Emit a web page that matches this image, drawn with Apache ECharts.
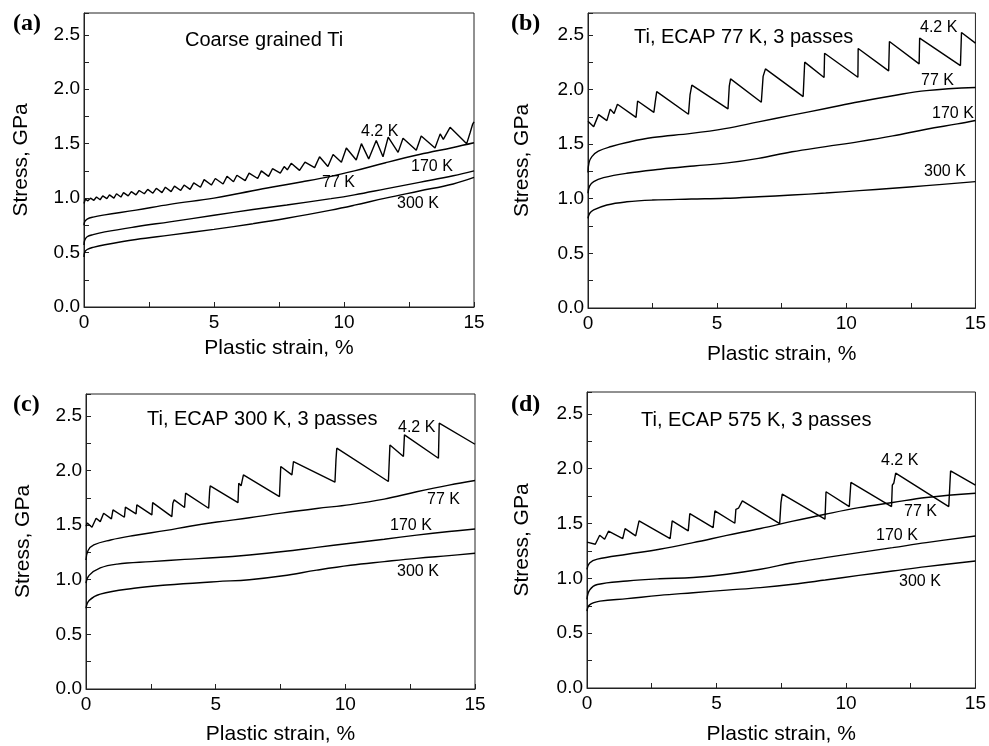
<!DOCTYPE html>
<html>
<head>
<meta charset="utf-8">
<script src="https://cdn.jsdelivr.net/npm/echarts@6/dist/echarts.min.js"></script>
<style>html,body{margin:0;padding:0;background:#fff;}#c{width:989px;height:746px;}</style>
</head>
<body>
<div id="c"></div>
<script>
// ---------- data (plastic strain %, stress GPa) ----------
const xTicks = [0, 5, 10, 15];
const yTicks = [0.0, 0.5, 1.0, 1.5, 2.0, 2.5];
const temps = ['4.2 K', '77 K', '170 K', '300 K'];
const panelTags = ['(a)', '(b)', '(c)', '(d)'];
const panelTitles = ['Coarse grained Ti', 'Ti, ECAP 77 K, 3 passes', 'Ti, ECAP 300 K, 3 passes', 'Ti, ECAP 575 K, 3 passes'];

// (a) coarse grained Ti
const a42 = [[0,0.95],[0.05,0.99],[0.15,0.975],[0.25,1.0],[0.38,0.98],[0.48,1.01],[0.62,0.985],[0.72,1.02],[0.88,0.995],[0.98,1.03],[1.15,1.0],[1.25,1.04],[1.42,1.01],[1.52,1.05],[1.7,1.02],[1.82,1.06],[2.0,1.03],[2.12,1.07],[2.32,1.04],[2.45,1.08],[2.65,1.045],[2.78,1.09],[3.0,1.05],[3.13,1.10],[3.35,1.06],[3.48,1.11],[3.72,1.07],[3.85,1.12],[4.08,1.08],[4.22,1.14],[4.48,1.10],[4.62,1.17],[4.9,1.12],[5.05,1.18],[5.35,1.13],[5.5,1.20],[5.75,1.15],[5.88,1.21],[6.2,1.16],[6.35,1.23],[6.68,1.18],[6.82,1.25],[7.1,1.20],[7.25,1.27],[7.55,1.23],[7.7,1.29],[7.82,1.26],[7.97,1.32],[8.29,1.255],[8.5,1.33],[8.87,1.28],[9.06,1.38],[9.38,1.29],[9.58,1.40],[9.9,1.33],[10.09,1.46],[10.47,1.35],[10.67,1.50],[10.95,1.36],[11.24,1.53],[11.5,1.38],[11.7,1.56],[12.08,1.42],[12.27,1.55],[12.78,1.44],[12.97,1.57],[13.5,1.46],[13.7,1.59],[13.82,1.54],[14.08,1.65],[14.72,1.50],[14.85,1.60],[14.95,1.68],[15,1.70]];
const a77 = [[0,0.75],[0.03,0.785],[0.12,0.808],[0.35,0.826],[0.8,0.846],[2.0,0.89],[3.3,0.943],[5.0,1.0],[6.0,1.045],[7.2,1.10],[8.4,1.15],[9.5,1.20],[10.4,1.25],[11.6,1.325],[12.9,1.40],[14.2,1.465],[15,1.508]];
const a170 = [[0,0.57],[0.03,0.615],[0.12,0.645],[0.35,0.665],[0.8,0.69],[2.0,0.737],[3.3,0.782],[5.0,0.842],[6.5,0.895],[7.8,0.937],[9.5,0.995],[10.4,1.03],[11.6,1.085],[12.9,1.145],[14.2,1.205],[15,1.25]];
const a300 = [[0,0.46],[0.03,0.505],[0.12,0.528],[0.35,0.548],[0.8,0.572],[2.0,0.62],[3.3,0.66],[5.0,0.713],[6.5,0.765],[7.8,0.815],[9.5,0.89],[10.4,0.935],[11.6,1.0],[12.9,1.065],[14.2,1.13],[15,1.19]];

// (b) ECAP 77 K
const b42 = [[0,1.71],[0.22,1.66],[0.41,1.77],[0.73,1.715],[0.86,1.82],[1.01,1.78],[1.14,1.865],[1.86,1.745],[1.92,1.895],[2.55,1.79],[2.6,1.88],[2.66,1.98],[3.89,1.773],[3.95,1.95],[4.02,2.04],[5.42,1.822],[5.47,2.03],[5.52,2.097],[6.71,1.883],[6.78,2.12],[6.87,2.189],[8.33,1.935],[8.39,2.25],[9.14,2.109],[9.16,2.332],[10.45,2.112],[10.46,2.375],[11.64,2.17],[11.67,2.439],[12.82,2.234],[12.84,2.47],[14.42,2.219],[14.46,2.521],[15,2.424]];
const b77 = [[0,1.24],[0.04,1.33],[0.15,1.386],[0.4,1.435],[0.9,1.478],[1.5,1.515],[2.5,1.56],[4.0,1.598],[5.3,1.642],[6.6,1.703],[7.9,1.765],[9.2,1.826],[10.5,1.888],[11.8,1.943],[13.1,1.99],[15,2.018]];
const b170 = [[0,1.05],[0.06,1.115],[0.22,1.157],[0.6,1.193],[1.5,1.233],[2.8,1.27],[4.1,1.30],[5.4,1.328],[6.6,1.37],[7.9,1.43],[9.2,1.477],[10.5,1.523],[11.8,1.575],[13.1,1.636],[14.3,1.685],[15,1.716]];
const b300 = [[0,0.82],[0.06,0.865],[0.22,0.897],[0.73,0.943],[1.5,0.972],[2.5,0.988],[4.0,0.997],[5.3,1.004],[6.6,1.018],[7.9,1.034],[9.2,1.052],[10.5,1.074],[11.8,1.096],[13.1,1.12],[15,1.157]];

// (c) ECAP 300 K
const c42 = [[0,1.49],[0.05,1.52],[0.23,1.48],[0.39,1.563],[0.55,1.532],[0.68,1.609],[0.98,1.557],[1.04,1.639],[1.48,1.572],[1.52,1.664],[1.93,1.603],[1.96,1.685],[2.54,1.593],[2.57,1.706],[3.31,1.578],[3.35,1.70],[3.4,1.731],[3.8,1.661],[3.84,1.792],[4.73,1.654],[4.77,1.82],[4.79,1.859],[5.86,1.706],[5.89,1.883],[5.98,1.86],[6.07,1.96],[7.46,1.761],[7.51,2.036],[7.94,1.96],[8.0,2.082],[9.6,1.893],[9.64,2.1],[9.67,2.204],[11.66,1.899],[11.72,2.234],[12.24,2.128],[12.28,2.326],[13.59,2.112],[13.62,2.433],[15,2.24]];
const c77 = [[0,1.18],[0.08,1.268],[0.3,1.319],[0.95,1.364],[1.85,1.405],[3.1,1.452],[4.0,1.49],[5.05,1.528],[6.3,1.567],[7.6,1.612],[8.9,1.652],[10.2,1.688],[11.5,1.738],[12.75,1.805],[14.0,1.866],[15,1.908]];
const c170 = [[0,0.968],[0.12,1.04],[0.55,1.108],[1.2,1.143],[2.5,1.166],[3.8,1.186],[5.05,1.203],[6.3,1.227],[7.6,1.258],[8.9,1.296],[10.2,1.334],[11.5,1.371],[12.75,1.408],[14.0,1.441],[15,1.465]];
const c300 = [[0,0.739],[0.12,0.81],[0.55,0.868],[1.85,0.922],[3.1,0.952],[5.05,0.983],[6.3,1.0],[7.6,1.036],[8.9,1.088],[10.2,1.133],[11.5,1.166],[12.75,1.196],[14.0,1.221],[15,1.242]];

// (d) ECAP 575 K
const d42 = [[0,1.33],[0.07,1.34],[0.32,1.311],[0.49,1.393],[0.68,1.357],[0.83,1.43],[1.38,1.363],[1.47,1.454],[1.88,1.387],[2.01,1.524],[3.21,1.363],[3.29,1.524],[3.91,1.433],[3.97,1.591],[4.87,1.463],[4.94,1.616],[5.71,1.503],[5.75,1.63],[5.85,1.64],[6.0,1.707],[7.44,1.50],[7.49,1.69],[7.54,1.768],[9.19,1.54],[9.23,1.79],[10.13,1.655],[10.19,1.875],[11.76,1.655],[11.79,1.85],[11.85,1.87],[11.92,1.96],[13.97,1.655],[14.04,1.98],[15,1.85]];
const d77 = [[0,1.082],[0.1,1.14],[0.4,1.175],[1.55,1.22],[2.8,1.266],[4.1,1.326],[5.4,1.392],[6.7,1.455],[7.95,1.522],[9.2,1.585],[10.5,1.645],[11.8,1.692],[13.1,1.738],[15,1.777]];
const d170 = [[0,0.808],[0.1,0.893],[0.4,0.944],[1.55,0.976],[2.8,0.996],[4.1,1.008],[5.4,1.038],[6.7,1.083],[7.95,1.142],[9.2,1.189],[10.5,1.235],[11.8,1.28],[13.1,1.326],[15,1.387]];
const d300 = [[0,0.701],[0.1,0.758],[0.5,0.792],[1.55,0.815],[2.8,0.845],[4.1,0.869],[5.4,0.893],[6.7,0.916],[7.95,0.946],[9.2,0.985],[10.5,1.027],[11.8,1.067],[13.1,1.107],[15,1.159]];

const panelSeries = [[a42,a77,a170,a300],[b42,b77,b170,b300],[c42,c77,c170,c300],[d42,d77,d170,d300]];

// ---------- layout ----------
const SANS = '"Liberation Sans", Arial, sans-serif';
const grids = [
  {left:84, top:13, width:390, height:294},
  {left:588, top:13, width:390, height:295},
  {left:86, top:394, width:389, height:295},
  {left:587, top:392, width:390, height:296}
];
const xNameGap = [31, 36, 35, 36];
const yNameGap = [52, 55, 52, 54];
const tagPos = [[13,25],[511,25],[13,406],[511,406]];
const titlePos = [[185,42],[634,39],[147,421],[641,422]];
const labelPos = [
  [[361,133],[322,184],[411,168],[397,205]],
  [[920,29],[921,82],[932,115],[924,173]],
  [[398,429],[427,501],[390,527],[397,573]],
  [[881,462],[904,513],[876,537],[899,583]]
];

const near = (v, list) => list.some(t => Math.abs(t - v) < 1e-6);

const option = {
  animation: false,
  backgroundColor: '#fff',
  grid: grids.map(g => Object.assign({show:true, borderColor:'#222', borderWidth:1, backgroundColor:'transparent'}, g)),
  xAxis: grids.map((g, i) => ({
    type:'value', gridIndex:i, min:0, max:15, interval:2.5,
    name:'Plastic strain, %', nameLocation:'middle', nameGap:xNameGap[i],
    nameTextStyle:{fontFamily:SANS, fontSize:21, color:'#000'},
    axisLine:{show:true, onZero:false, lineStyle:{color:'#222', width:1}},
    axisTick:{show:true, inside:true, length:5, lineStyle:{color:'#222'}},
    axisLabel:{fontFamily:SANS, fontSize:19, color:'#000', margin:6,
      formatter: v => near(v, xTicks) ? String(v) : ''},
    splitLine:{show:false}
  })),
  yAxis: grids.map((g, i) => ({
    type:'value', gridIndex:i, min:0, max:2.7, interval:0.25,
    name:'Stress, GPa', nameLocation:'middle', nameGap:yNameGap[i],
    nameTextStyle:{fontFamily:SANS, fontSize:21, color:'#000'},
    axisLine:{show:true, onZero:false, lineStyle:{color:'#222', width:1}},
    axisTick:{show:true, inside:true, length:5, lineStyle:{color:'#222'}},
    axisLabel:{fontFamily:SANS, fontSize:19, color:'#000', margin:4,
      formatter: v => near(v, yTicks) ? v.toFixed(1) : ''},
    splitLine:{show:false}
  })),
  series: [],
  graphic: []
};

panelSeries.forEach((list, p) => {
  list.forEach((d, k) => {
    option.series.push({
      type:'line', xAxisIndex:p, yAxisIndex:p, data:d, name:temps[k],
      showSymbol:false, symbol:'none',
      smooth: k === 0 ? false : 0.4,
      lineStyle:{color:'#000', width:1.4}, z:3
    });
  });
  option.graphic.push({type:'text', left:tagPos[p][0], top:tagPos[p][1]-13,
    style:{text:panelTags[p], font:'bold 24px "Liberation Serif", "Times New Roman", serif', fill:'#000'}});
  option.graphic.push({type:'text', left:titlePos[p][0], top:titlePos[p][1]-12,
    style:{text:panelTitles[p], font:'20px ' + SANS, fill:'#000'}});
  temps.forEach((t, k) => {
    option.graphic.push({type:'text', left:labelPos[p][k][0], top:labelPos[p][k][1]-9,
      style:{text:t, font:'16px ' + SANS, fill:'#000'}});
  });
});

const chart = echarts.init(document.getElementById('c'), null, {renderer:'canvas'});
chart.setOption(option);
</script>
</body>
</html>
